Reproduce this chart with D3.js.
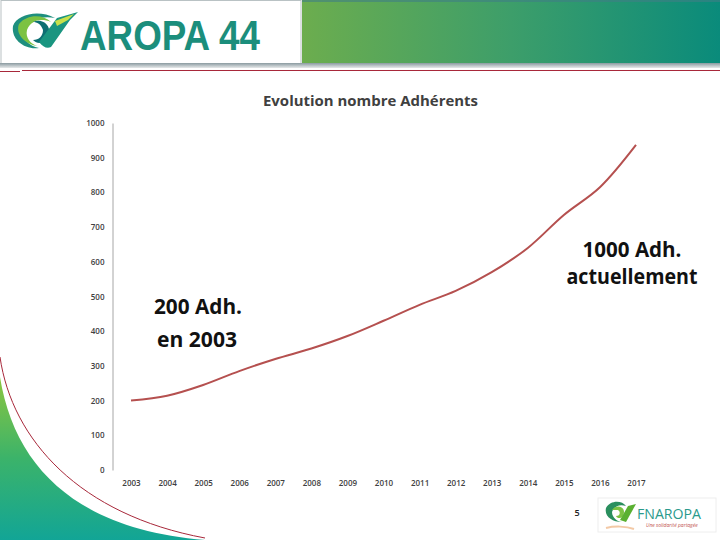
<!DOCTYPE html>
<html><head><meta charset="utf-8">
<script src="https://cdn.jsdelivr.net/npm/d3@7"></script>
<style>html,body{margin:0;padding:0;background:#fff;}svg{display:block;}</style>
</head><body>
<script>
const years = [2003,2004,2005,2006,2007,2008,2009,2010,2011,2012,2013,2014,2015,2016,2017];
const members = [200,214,245,285,320,350,386,430,476,516,570,640,735,815,937];
const yTicks = [0,100,200,300,400,500,600,700,800,900,1000];
const title = "Evolution nombre Adhérents";
const noteLeft = ["200 Adh.","en 2003"];
const noteRight = ["1000 Adh.","actuellement"];

const W=720,H=540;
const svg=d3.select("body").append("svg").attr("width",W).attr("height",H);
const defs=svg.append("defs");
const g1=defs.append("linearGradient").attr("id","hdr").attr("x1","0").attr("x2","1").attr("y1","0").attr("y2","0");
g1.append("stop").attr("offset","0").attr("stop-color","#6cad4e");
g1.append("stop").attr("offset","0.5").attr("stop-color","#3d9e6a");
g1.append("stop").attr("offset","1").attr("stop-color","#0a8b7b");
const g2=defs.append("linearGradient").attr("id","corner").attr("x1","0").attr("x2","0").attr("y1","0").attr("y2","1");
g2.append("stop").attr("offset","0").attr("stop-color","#8cc63f");
g2.append("stop").attr("offset","0.5").attr("stop-color","#3bb36a");
g2.append("stop").attr("offset","1").attr("stop-color","#12a596");
const g3=defs.append("linearGradient").attr("id","band").attr("x1","0").attr("x2","0").attr("y1","0").attr("y2","1");
g3.append("stop").attr("offset","0").attr("stop-color","#8a9aa0");
g3.append("stop").attr("offset","1").attr("stop-color","#e6e9ea");

// header
svg.append("rect").attr("x",302).attr("y",0).attr("width",418).attr("height",63).attr("fill","url(#hdr)");
svg.append("rect").attr("x",302).attr("y",0).attr("width",418).attr("height",2).attr("fill","#3f7f86").attr("opacity",0.6);
svg.append("rect").attr("x",1).attr("y",0.5).attr("width",300).attr("height",63).attr("fill","#fff").attr("stroke","#b9c2c4").attr("stroke-width",1);
svg.append("rect").attr("x",0).attr("y",63).attr("width",720).attr("height",5).attr("fill","url(#band)");
svg.append("line").attr("x1",22).attr("x2",720).attr("y1",70.5).attr("y2",70.5).attr("stroke","#a8283a").attr("stroke-width",1);
svg.append("line").attr("x1",0).attr("x2",20).attr("y1",71.5).attr("y2",71.5).attr("stroke","#a8283a").attr("stroke-width",1);

// logo icon
const logo=svg.append("g").attr("transform","translate(11,10)");
logo.append("path").attr("d","M2,16 C6,4 28,-1 44,8 C34,6 18,8 12,18 C10,28 18,36 28,38 C14,40 0,30 2,16 Z").attr("fill","#1e8f7e");
logo.append("path").attr("d","M8,14 C16,4 32,4 40,12 C30,8 20,10 16,20 C14,28 20,34 26,36 C14,34 4,24 8,14 Z").attr("fill","#7cc242");
logo.append("path").attr("d","M22,12 C30,8 40,14 38,24 C36,32 28,36 22,30 C28,30 32,26 32,20 C30,14 26,12 22,12 Z").attr("fill","#0d6f73");
logo.append("path").attr("d","M28,32 L46,8 L67,2 L59,10 L40,37 C36,39 32,37 28,32 Z").attr("fill","#1a9580");
logo.append("path").attr("d","M44,11 L63,4 L57,10 L46,16 Z").attr("fill","#c8e04a");
svg.append("text").attr("x",80).attr("y",50).attr("font-family","'Liberation Sans Narrow','Arial Narrow','Liberation Sans',sans-serif")
  .attr("font-size",42).attr("font-weight",700).attr("fill","#1b8e7c").attr("textLength",180).attr("lengthAdjust","spacingAndGlyphs").text("AROPA 44");

// bottom-left corner decoration
svg.append("path").attr("d","M0,377 C15,470 80,530 205,540 L0,540 Z").attr("fill","url(#corner)");
svg.append("path").attr("d","M0,357 C12,440 80,515 205,538").attr("fill","none").attr("stroke","#a8283a").attr("stroke-width",1);

// chart
const x=d3.scalePoint().domain(years).range([131,636]);
const y=d3.scaleLinear().domain([0,1000]).range([470,123]);

svg.append("text").attr("x",370.5).attr("y",106).attr("text-anchor","middle")
  .attr("font-family","'Open Sans',sans-serif").attr("font-weight",700).attr("font-size",14.5)
  .attr("fill","#404040").attr("textLength",215).attr("lengthAdjust","spacingAndGlyphs").text(title);

const yAxis=svg.append("g").attr("transform","translate(112.5,0)")
  .call(d3.axisLeft(y).tickValues(yTicks).tickSize(0).tickPadding(8).tickFormat(d3.format("d")));
yAxis.select(".domain").attr("stroke","#a6a6a6").attr("stroke-width",1);
yAxis.selectAll("text").attr("font-family","'Open Sans',sans-serif").attr("font-size",8).attr("font-weight",600).attr("fill","#404040");

const xAxis=svg.append("g").attr("transform","translate(0,470)")
  .call(d3.axisBottom(x).tickSize(0).tickPadding(10).tickFormat(d3.format("d")));
xAxis.select(".domain").remove();
xAxis.selectAll("text").attr("font-family","'Open Sans',sans-serif").attr("font-size",8).attr("font-weight",600).attr("fill","#404040");

const line=d3.line().x((d,i)=>x(years[i])).y(d=>y(d)).curve(d3.curveCatmullRom.alpha(0.5));
svg.append("path").datum(members).attr("d",line).attr("fill","none").attr("stroke","#b5504f").attr("stroke-width",2);

// annotations
const fnt="'Open Sans',sans-serif";
function note(xc,yb,t,len){
  svg.append("text").attr("x",xc).attr("y",yb).attr("text-anchor","middle").attr("font-family",fnt)
    .attr("font-size",21).attr("font-weight",700).attr("fill","#111")
    .attr("textLength",len).attr("lengthAdjust","spacingAndGlyphs").text(t);
}
note(198,314,noteLeft[0],88);
note(197,347,noteLeft[1],80);
note(632,257,noteRight[0],99);
note(632,284,noteRight[1],131);

// footer
svg.append("text").attr("x",577).attr("y",516).attr("text-anchor","middle").attr("font-family",fnt).attr("font-size",9).attr("font-weight",600).attr("fill","#222").text("5");
const fl=svg.append("g").attr("transform","translate(604,500)");
fl.append("rect").attr("x",-6).attr("y",-2).attr("width",118).attr("height",34).attr("fill","none").attr("stroke","#eeeeee");
fl.append("path").attr("d","M2,8 C6,0 18,0 22,6 C16,4 10,6 8,12 C8,18 14,22 18,22 C8,22 0,16 2,8 Z").attr("fill","#2a8f5e");
fl.append("path").attr("d","M8,10 C12,4 20,6 20,12 C20,18 14,20 12,16 C16,16 17,12 14,10 Z").attr("fill","#7cc242");
fl.append("path").attr("d","M16,20 L24,6 L32,4 L22,22 Z").attr("fill","#5ab031");
fl.append("path").attr("d","M2,28 C10,26 22,26 30,29").attr("fill","none").attr("stroke","#f3c9a6").attr("stroke-width",2);
fl.append("text").attr("x",33).attr("y",19).attr("font-family",fnt).attr("font-size",14).attr("fill","#2a9a8c").attr("textLength",64).attr("lengthAdjust","spacingAndGlyphs").text("FNAROPA");
fl.append("text").attr("x",42).attr("y",27).attr("font-family",fnt).attr("font-size",5).attr("font-style","italic").attr("fill","#c0504d").text("Une solidarité partagée");
</script>
</body></html>
